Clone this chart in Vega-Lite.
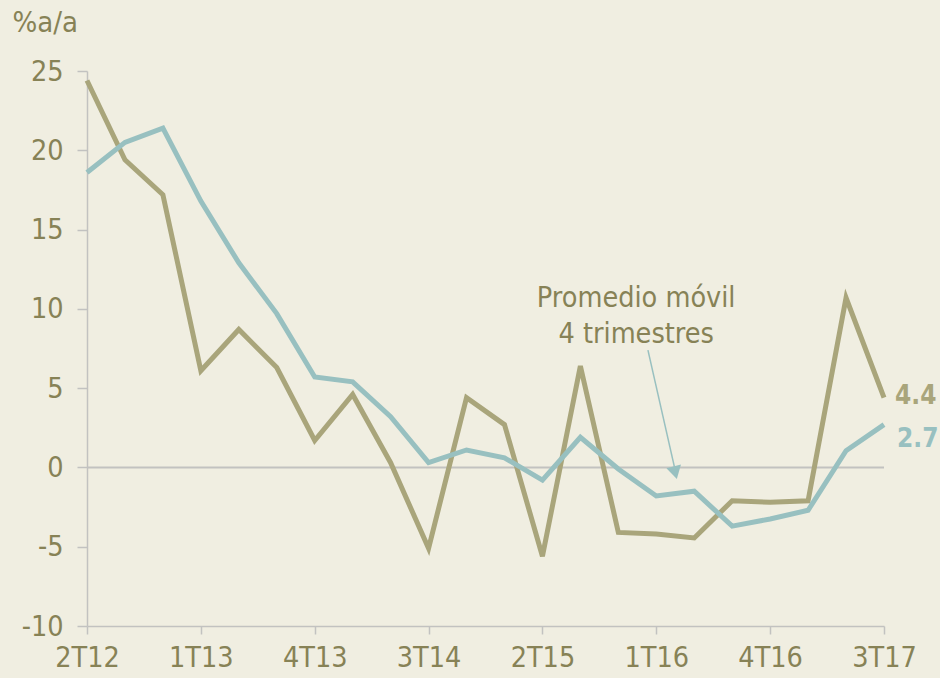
{
  "$schema": "https://vega.github.io/schema/vega-lite/v6.json",
  "width": 797,
  "height": 555,
  "autosize": {"type": "none"},
  "padding": {"left": 87, "top": 71, "right": 56, "bottom": 52},
  "background": "#F0EEE1",
  "config": {
    "view": {"stroke": null},
    "font": "DejaVu Sans Condensed",
    "axis": {
      "labelFont": "DejaVu Sans Condensed",
      "labelFontSize": 28.5,
      "labelColor": "#878256",
      "domainColor": "#C2C2C0",
      "tickColor": "#C2C2C0",
      "domainWidth": 1.5,
      "tickWidth": 1.5,
      "grid": false
    }
  },
  "datasets": {
    "serie": [
      {"t": 0, "q": "2T12", "anual": 24.4, "movil": 18.6},
      {"t": 1, "q": "3T12", "anual": 19.4, "movil": 20.5},
      {"t": 2, "q": "4T12", "anual": 17.2, "movil": 21.4},
      {"t": 3, "q": "1T13", "anual": 6.1, "movil": 16.8},
      {"t": 4, "q": "2T13", "anual": 8.7, "movil": 12.9},
      {"t": 5, "q": "3T13", "anual": 6.3, "movil": 9.7},
      {"t": 6, "q": "4T13", "anual": 1.7, "movil": 5.7},
      {"t": 7, "q": "1T14", "anual": 4.6, "movil": 5.4},
      {"t": 8, "q": "2T14", "anual": 0.3, "movil": 3.2},
      {"t": 9, "q": "3T14", "anual": -5.1, "movil": 0.3},
      {"t": 10, "q": "4T14", "anual": 4.4, "movil": 1.1},
      {"t": 11, "q": "1T15", "anual": 2.7, "movil": 0.6},
      {"t": 12, "q": "2T15", "anual": -5.6, "movil": -0.8},
      {"t": 13, "q": "3T15", "anual": 6.4, "movil": 1.9},
      {"t": 14, "q": "4T15", "anual": -4.1, "movil": -0.1},
      {"t": 15, "q": "1T16", "anual": -4.2, "movil": -1.8},
      {"t": 16, "q": "2T16", "anual": -4.45, "movil": -1.5},
      {"t": 17, "q": "3T16", "anual": -2.1, "movil": -3.7},
      {"t": 18, "q": "4T16", "anual": -2.2, "movil": -3.25},
      {"t": 19, "q": "1T17", "anual": -2.1, "movil": -2.7},
      {"t": 20, "q": "2T17", "anual": 10.7, "movil": 1.05},
      {"t": 21, "q": "3T17", "anual": 4.4, "movil": 2.7}
    ],
    "uno": [{}]
  },
  "layer": [
    {
      "data": {"name": "uno"},
      "mark": {"type": "rule", "color": "#C2C2C0", "strokeWidth": 2},
      "encoding": {
        "x": {
          "datum": 0,
          "type": "quantitative",
          "scale": {"domain": [0, 21], "nice": false, "zero": false},
          "axis": {
            "title": null,
            "values": [0, 3, 6, 9, 12, 15, 18, 21],
            "labelExpr": "['2T12','3T12','4T12','1T13','2T13','3T13','4T13','1T14','2T14','3T14','4T14','1T15','2T15','3T15','4T15','1T16','2T16','3T16','4T16','1T17','2T17','3T17'][datum.value]",
            "tickSize": 8,
            "labelPadding": 9,
            "labelFlush": false
          }
        },
        "x2": {"datum": 21},
        "y": {
          "datum": 0,
          "type": "quantitative",
          "scale": {"domain": [-10, 25], "nice": false, "zero": false},
          "axis": {
            "values": [-10, -5, 0, 5, 10, 15, 20, 25],
            "labelExpr": "'' + datum.value",
            "tickSize": 10,
            "labelPadding": 14,
            "title": "%a/a",
            "titleFont": "DejaVu Sans Condensed",
            "titleFontSize": 29,
            "titleFontWeight": "normal",
            "titleColor": "#878256",
            "titleAngle": 0,
            "titleAlign": "left",
            "titleBaseline": "middle",
            "titleX": -75,
            "titleY": -49
          }
        }
      }
    },
    {
      "data": {"name": "serie"},
      "mark": {"type": "line", "color": "#A9A57B", "strokeWidth": 5, "strokeJoin": "miter"},
      "encoding": {
        "x": {"field": "t", "type": "quantitative"},
        "y": {"field": "anual", "type": "quantitative"}
      }
    },
    {
      "data": {"name": "serie"},
      "mark": {"type": "line", "color": "#98C0C0", "strokeWidth": 5, "strokeJoin": "miter"},
      "encoding": {
        "x": {"field": "t", "type": "quantitative"},
        "y": {"field": "movil", "type": "quantitative"}
      }
    },
    {
      "data": {"name": "uno"},
      "mark": {"type": "rule", "color": "#98C0C0", "strokeWidth": 1.5},
      "encoding": {
        "x": {"datum": 14.78, "type": "quantitative"},
        "y": {"datum": 7.4, "type": "quantitative"},
        "x2": {"datum": 15.5},
        "y2": {"datum": -0.2}
      }
    },
    {
      "data": {"name": "uno"},
      "mark": {"type": "point", "shape": "triangle-down", "filled": true, "opacity": 1, "fill": "#98C0C0", "strokeWidth": 0, "size": 225, "angle": 346},
      "encoding": {
        "x": {"datum": 15.5, "type": "quantitative"},
        "y": {"datum": -0.33, "type": "quantitative"}
      }
    },
    {
      "data": {"name": "uno"},
      "mark": {"type": "text", "fill": "#878256", "fontSize": 28.5, "align": "center", "baseline": "middle", "lineHeight": 36, "text": ["Promedio móvil", "4 trimestres"]},
      "encoding": {
        "x": {"datum": 14.47, "type": "quantitative"},
        "y": {"datum": 10.7, "type": "quantitative"}
      }
    },
    {
      "data": {"name": "uno"},
      "mark": {"type": "text", "fill": "#A9A57B", "fontSize": 26, "fontWeight": "bold", "align": "left", "baseline": "middle", "dx": 11, "dy": -2, "text": "4.4"},
      "encoding": {
        "x": {"datum": 21, "type": "quantitative"},
        "y": {"datum": 4.4, "type": "quantitative"}
      }
    },
    {
      "data": {"name": "uno"},
      "mark": {"type": "text", "fill": "#98C0C0", "fontSize": 26, "fontWeight": "bold", "align": "left", "baseline": "middle", "dx": 13, "dy": 14, "text": "2.7"},
      "encoding": {
        "x": {"datum": 21, "type": "quantitative"},
        "y": {"datum": 2.7, "type": "quantitative"}
      }
    }
  ]
}
